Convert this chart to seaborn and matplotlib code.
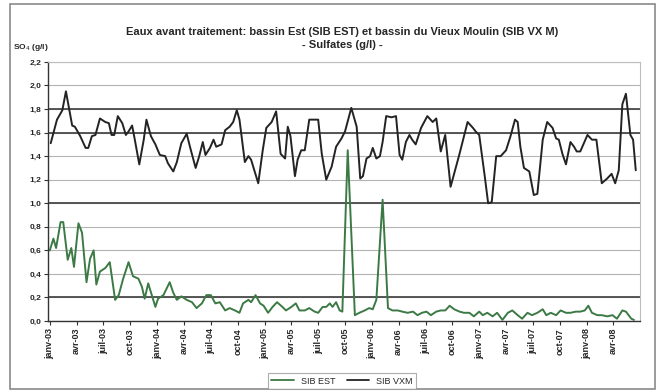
import numpy as np
import pandas as pd
import matplotlib
matplotlib.use("Agg")
import matplotlib.pyplot as plt
from matplotlib.patches import Rectangle
import seaborn as sns

# mois depuis janv-03 / sulfates (g/l)
vxm_mois = [0.1, 0.8, 1.4, 1.8, 2.5, 2.8, 3.4, 4.0, 4.3, 4.7, 5.1, 5.6, 6.2, 6.6, 6.9, 7.2, 7.6, 8.1,
            8.5, 8.8, 9.2, 9.5, 10.0, 10.5, 10.8, 11.3, 11.8, 12.3, 12.9, 13.2, 13.8, 14.2, 14.7, 15.3,
            15.7, 16.3, 16.7, 17.1, 17.4, 17.9, 18.3, 18.6, 19.2, 19.6, 20.1, 20.5, 20.9, 21.2, 21.8,
            22.2, 22.5, 23.3, 23.8, 24.2, 24.8, 25.3, 25.8, 26.3, 26.6, 26.9, 27.4, 27.7, 28.1, 28.5,
            29.0, 30.0, 30.4, 30.9, 31.5, 32.0, 32.6, 33.0, 33.7, 34.3, 34.7, 35.0, 35.4, 35.8, 36.1,
            36.5, 36.9, 37.2, 37.6, 38.2, 38.7, 39.1, 39.4, 39.8, 40.2, 40.5, 40.9, 41.5, 42.2, 42.8,
            43.2, 43.7, 44.2, 44.8, 45.8, 46.7, 47.3, 47.6, 48.0, 48.6, 49.0, 49.4, 49.9, 50.4, 51.0,
            51.5, 52.0, 52.3, 52.6, 53.0, 53.6, 54.1, 54.5, 55.1, 55.6, 56.2, 56.6, 56.9, 57.3, 57.7,
            58.2, 58.6, 58.9, 59.3, 60.1, 60.6, 61.1, 61.7, 62.3, 62.8, 63.2, 63.6, 64.0, 64.4, 64.9,
            65.2, 65.5]
vxm_val = [1.51, 1.71, 1.79, 1.95, 1.66, 1.65, 1.57, 1.47, 1.47, 1.57, 1.58, 1.72, 1.69, 1.68, 1.58,
           1.58, 1.74, 1.68, 1.58, 1.61, 1.66, 1.54, 1.33, 1.54, 1.71, 1.57, 1.50, 1.41, 1.40, 1.34,
           1.27, 1.35, 1.51, 1.59, 1.47, 1.30, 1.40, 1.52, 1.41, 1.47, 1.54, 1.48, 1.50, 1.62, 1.65,
           1.69, 1.79, 1.71, 1.35, 1.40, 1.37, 1.17, 1.45, 1.64, 1.69, 1.78, 1.42, 1.38, 1.65, 1.57,
           1.23, 1.37, 1.45, 1.45, 1.71, 1.71, 1.42, 1.20, 1.31, 1.48, 1.55, 1.61, 1.81, 1.65, 1.21,
           1.23, 1.38, 1.40, 1.47, 1.38, 1.40, 1.52, 1.74, 1.73, 1.74, 1.41, 1.37, 1.52, 1.58, 1.54,
           1.50, 1.64, 1.74, 1.69, 1.72, 1.44, 1.58, 1.14, 1.42, 1.69, 1.64, 1.61, 1.58, 1.24, 1.00,
           1.01, 1.40, 1.40, 1.45, 1.57, 1.71, 1.69, 1.48, 1.30, 1.27, 1.07, 1.08, 1.54, 1.69, 1.64,
           1.55, 1.54, 1.42, 1.33, 1.52, 1.48, 1.44, 1.44, 1.58, 1.54, 1.54, 1.17, 1.21, 1.25, 1.17,
           1.28, 1.84, 1.93, 1.58, 1.54, 1.28]

est_mois = [0.0, 0.4, 0.7, 1.2, 1.5, 2.0, 2.4, 2.7, 3.2, 3.6, 4.1, 4.5, 4.9, 5.2, 5.6, 6.2, 6.7, 7.3,
            7.7, 8.2, 8.8, 9.3, 9.9, 10.3, 10.6, 11.0, 11.4, 11.8, 12.1, 12.7, 13.4, 13.8, 14.2, 14.7,
            15.3, 15.9, 16.4, 17.0, 17.5, 18.0, 18.5, 19.0, 19.6, 20.1, 20.7, 21.2, 21.6, 22.2, 22.5,
            23.0, 23.5, 23.9, 24.4, 24.9, 25.4, 26.0, 26.4, 27.0, 27.5, 27.9, 28.5, 29.0, 29.6, 30.0,
            30.5, 30.9, 31.3, 31.6, 32.0, 32.4, 32.7, 33.3, 34.1, 34.6, 35.2, 35.7, 36.1, 36.5, 37.2,
            37.8, 38.3, 38.9, 39.4, 40.0, 40.6, 41.1, 41.6, 42.1, 42.6, 43.2, 43.7, 44.2, 44.7, 45.2,
            45.8, 46.3, 46.9, 47.4, 48.0, 48.4, 48.9, 49.5, 50.0, 50.6, 51.2, 51.7, 52.3, 52.8, 53.4,
            53.9, 54.5, 55.1, 55.5, 56.0, 56.6, 57.1, 57.7, 58.2, 58.8, 59.3, 59.8, 60.2, 60.6, 61.2,
            61.7, 62.3, 62.9, 63.4, 64.0, 64.4, 65.0, 65.3]
est_val = [0.60, 0.70, 0.62, 0.84, 0.84, 0.52, 0.62, 0.46, 0.83, 0.75, 0.33, 0.53, 0.60, 0.31, 0.42,
           0.45, 0.50, 0.18, 0.22, 0.36, 0.50, 0.38, 0.36, 0.29, 0.19, 0.32, 0.22, 0.12, 0.19, 0.22,
           0.33, 0.24, 0.18, 0.21, 0.18, 0.16, 0.11, 0.15, 0.22, 0.22, 0.15, 0.16, 0.09, 0.11, 0.09,
           0.07, 0.15, 0.18, 0.16, 0.22, 0.15, 0.13, 0.07, 0.12, 0.16, 0.12, 0.09, 0.12, 0.15, 0.09,
           0.09, 0.11, 0.08, 0.07, 0.12, 0.12, 0.15, 0.12, 0.16, 0.09, 0.08, 1.45, 0.05, 0.07, 0.09,
           0.11, 0.10, 0.18, 1.03, 0.11, 0.09, 0.09, 0.08, 0.07, 0.08, 0.05, 0.07, 0.08, 0.05, 0.08,
           0.09, 0.09, 0.13, 0.10, 0.08, 0.07, 0.07, 0.04, 0.08, 0.05, 0.07, 0.04, 0.07, 0.01, 0.07,
           0.09, 0.05, 0.02, 0.07, 0.05, 0.07, 0.10, 0.05, 0.07, 0.05, 0.09, 0.07, 0.07, 0.08, 0.08,
           0.09, 0.13, 0.07, 0.05, 0.05, 0.04, 0.05, 0.02, 0.09, 0.08, 0.02, 0.01]

tick_mois = list(range(0, 64, 3))
tick_labels = [f"{m}-{a:02d}" for a in range(3, 9) for m in ["janv", "avr", "juil", "oct"]][:22]
seuils = [0.2, 1.0, 1.6, 1.8]

df = pd.concat([
    pd.DataFrame({"mois": est_mois, "val": est_val, "serie": "SIB EST"}),
    pd.DataFrame({"mois": vxm_mois, "val": vxm_val, "serie": "SIB VXM"}),
])

sns.set_style("white")
plt.rcParams["font.family"] = ["Liberation Sans", "DejaVu Sans"]

fig = plt.figure(figsize=(6.58, 3.92), dpi=100)
ax = fig.add_axes([0.073, 0.181, 0.9, 0.661])

ax.set_yticks(np.arange(0, 2.21, 0.2))
ax.yaxis.grid(True, color="#b4b4b4", lw=0.8)
ax.set_axisbelow(True)
for s in seuils:
    ax.axhline(s, color="#4a4a4a", lw=1.3, zorder=1)

sns.lineplot(data=df, x="mois", y="val", hue="serie", estimator=None, sort=False,
             palette={"SIB EST": "#3c7a45", "SIB VXM": "#232323"}, lw=1.4, ax=ax, legend=False)

ax.set_xlim(-0.2, 66.0)
ax.set_ylim(0, 2.2)
ax.set_xticks(tick_mois)
ax.set_xticklabels(tick_labels, rotation=90, fontsize=6.5, fontweight="bold")
ax.set_yticklabels([f"{v:.1f}".replace(".", ",") for v in np.arange(0, 2.21, 0.2)],
                   fontsize=6, fontweight="bold")
ax.tick_params(axis="both", length=3, width=0.8, pad=2, color="#333333", bottom=True, left=True)
ax.set_xlabel("")
ax.set_ylabel("")
for side in ["left", "bottom"]:
    ax.spines[side].set_color("#333333")
    ax.spines[side].set_linewidth(1.0)
for side in ["top", "right"]:
    ax.spines[side].set_color("#bdbdbd")
    ax.spines[side].set_linewidth(0.8)

fig.text(0.52, 0.918, "Eaux avant traitement: bassin Est (SIB EST) et bassin du Vieux Moulin (SIB VX M)",
         ha="center", va="center", fontsize=8, fontweight="bold")
fig.text(0.52, 0.886, "- Sulfates (g/l) -", ha="center", va="center", fontsize=8, fontweight="bold")
fig.text(0.02, 0.878, "SO$_4$ (g/l)", ha="left", va="center", fontsize=6, fontweight="bold")

handles = [plt.Line2D([], [], color="#3c7a45", lw=1.3), plt.Line2D([], [], color="#232323", lw=1.3)]
leg = fig.legend(handles, ["SIB EST", "SIB VXM"], loc="center", bbox_to_anchor=(0.52, 0.028),
                 ncol=2, fontsize=6.5, frameon=True, fancybox=False, handlelength=2.5,
                 columnspacing=1.2, borderpad=0.4)
leg.get_frame().set_edgecolor("#999999")
leg.get_frame().set_linewidth(0.8)

fig.patches.append(Rectangle((0.015, 0.008), 0.98, 0.982, transform=fig.transFigure,
                             fill=False, edgecolor="#8a8a8a", lw=1.2))

fig.savefig("out.png", dpi=100)
